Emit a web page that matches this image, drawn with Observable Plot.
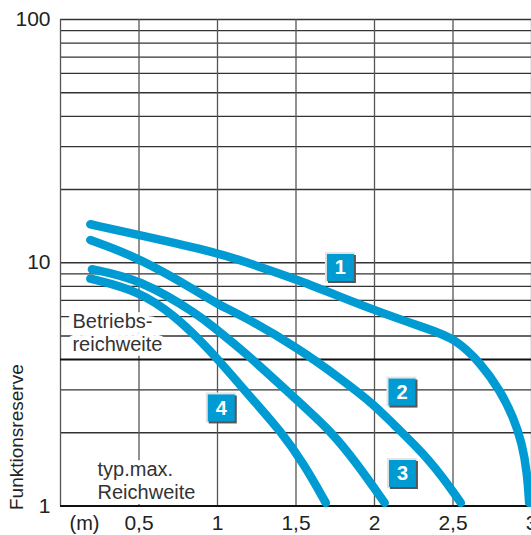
<!DOCTYPE html>
<html>
<head>
<meta charset="utf-8">
<script src="https://cdn.jsdelivr.net/npm/d3@7"></script>
<script src="https://cdn.jsdelivr.net/npm/@observablehq/plot@0.6"></script>
<style>
  html, body { margin: 0; padding: 0; background: #fff; }
  #chart svg { display: block; }
</style>
</head>
<body>
<div id="chart"></div>
<script>
// Curve data: distance (m) vs. Funktionsreserve
const dist1 = [0.19, 0.5, 1.0, 1.15, 1.5, 2.0, 2.34, 2.51, 2.68, 2.8, 2.885, 2.94, 2.973, 2.985];
const res1  = [14.4, 13.0, 11.0, 10.2, 8.6, 6.35, 5.35, 4.9, 3.85, 2.98, 2.32, 1.81, 1.36, 1.03];

const dist2 = [0.19, 0.5, 0.89, 1.0, 1.15, 1.51, 1.8, 2.0, 2.1, 2.36, 2.55];
const res2  = [12.4, 10.5, 7.5, 6.75, 6.1, 4.48, 3.28, 2.6, 2.23, 1.54, 1.03];

const dist3 = [0.2, 0.5, 0.89, 1.0, 1.15, 1.51, 1.72, 1.89, 2.065];
const res3  = [9.4, 8.6, 6.06, 5.26, 4.43, 2.71, 2.04, 1.49, 1.03];

const dist4 = [0.19, 0.5, 0.74, 0.89, 1.0, 1.23, 1.4, 1.55, 1.69];
const res4  = [8.6, 7.67, 5.96, 4.78, 4.03, 2.71, 2.04, 1.49, 1.03];

// Numbered curve tags
const tagIds  = ["1", "2", "3", "4"];
const tagDist = [1.783, 2.175, 2.178, 1.024];
const tagRes  = [9.56, 2.94, 1.36, 2.53];

// Annotations
const noteText = ["Betriebs-\nreichweite", "typ.max.\nReichweite"];
const noteDist = [0.076, 0.236];
const noteRes  = [6.3, 1.55];

// Axes / grid
const yTicks = [1, 10, 100];
const xTicks = [0.5, 1, 1.5, 2, 2.5, 3];
const gridY = [2, 3, 5, 6, 7, 8, 9, 10, 20, 30, 40, 50, 60, 70, 80, 90, 100];
const gridX = [0, 0.5, 1, 1.5, 2, 2.5, 3];
const thresholdY = [4];
const baseY = [1];
const yTitle = ["Funktionsreserve"];
const xUnit = ["(m)"];

const BLUE = "#009bd2";
const square = {
  draw(ctx, size) {
    const r = Math.sqrt(size / Math.PI);
    ctx.rect(-r, -r, 2 * r, 2 * r);
  }
};

const curve = (xs, ys) => Plot.line(xs, {
  x: xs, y: ys, stroke: BLUE, strokeWidth: 8.5,
  strokeLinecap: "round", strokeLinejoin: "round", curve: "basis"
});

const chart = Plot.plot({
  width: 531,
  height: 535,
  marginLeft: 60,
  marginRight: 0,
  marginTop: 19,
  marginBottom: 29.5,
  x: { domain: [0, 3] },
  y: { type: "log", domain: [1, 100] },
  style: { fontFamily: "'Liberation Sans', Arial, sans-serif", fontSize: "20px", color: "#222", background: "#fff" },
  marks: [
    Plot.ruleY(gridY, { stroke: "#333", strokeWidth: 1.3 }),
    Plot.ruleX(gridX, { stroke: "#555", strokeWidth: 1.3 }),
    Plot.ruleY(thresholdY, { stroke: "#111", strokeWidth: 2 }),
    Plot.ruleY(baseY, { stroke: "#111", strokeWidth: 2.2 }),
    Plot.text(noteText, {
      x: noteDist, y: noteRes, text: noteText,
      textAnchor: "start", lineAnchor: "top", lineHeight: 1.15,
      fill: "#333", stroke: "#fff", strokeWidth: 10, strokeLinejoin: "round", fontSize: 20
    }),
    curve(dist1, res1),
    curve(dist2, res2),
    curve(dist3, res3),
    curve(dist4, res4),
    Plot.dot(tagIds, { x: tagDist, y: tagRes, symbol: square, r: 15, dx: -0.5, dy: -0.5, fill: "#e4e4e4", stroke: null }),
    Plot.dot(tagIds, { x: tagDist, y: tagRes, symbol: square, r: 14, dx: 1.5, dy: 1.5, fill: "#555", stroke: null }),
    Plot.dot(tagIds, { x: tagDist, y: tagRes, symbol: square, r: 13.5, fill: BLUE, stroke: null }),
    Plot.text(tagIds, { x: tagDist, y: tagRes, text: tagIds, fill: "#fff", fontWeight: "bold", fontSize: 20, dy: 0.5 }),
    Plot.axisY({ ticks: yTicks, tickFormat: d => String(d), tickSize: 0, tickPadding: 10, label: null, fontSize: 21 }),
    Plot.axisX({ ticks: xTicks, tickFormat: d => String(d).replace(".", ","), tickSize: 0, tickPadding: 9.5, label: null, fontSize: 21 }),
    Plot.text(xUnit, { frameAnchor: "bottom-left", text: xUnit, dx: 9, dy: 9.5, lineAnchor: "top", fontSize: 20 }),
    Plot.text(yTitle, { frameAnchor: "bottom-left", text: yTitle, rotate: -90, textAnchor: "start", dx: -38, dy: 4, fontSize: 19 })
  ]
});

document.getElementById("chart").appendChild(chart);
</script>
</body>
</html>
